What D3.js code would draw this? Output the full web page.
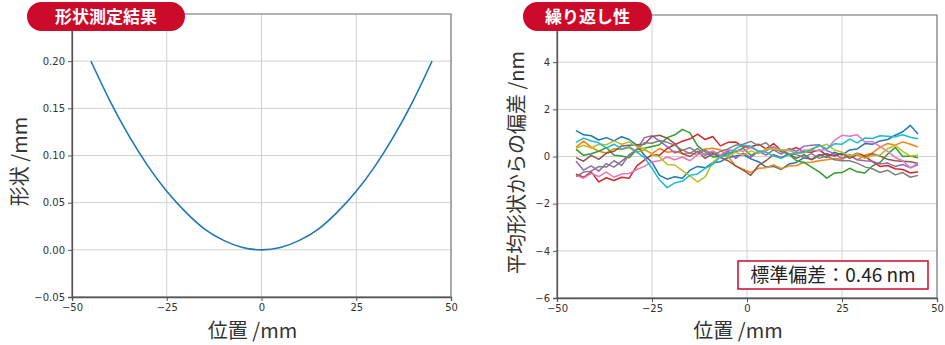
<!DOCTYPE html>
<html><head><meta charset="utf-8">
<script src="https://cdn.jsdelivr.net/npm/d3@7"></script>
<style>body{margin:0;background:#fff}svg{display:block}</style>
</head><body>
<svg id="c" width="945" height="345"></svg>
<script>
// ---------- data ----------
const xTicks = [-50, -25, 0, 25, 50];
const shapeYTicks = [-0.05, 0.00, 0.05, 0.10, 0.15, 0.20];
const repYTicks = [-6, -4, -2, 0, 2, 4];

const shapeX = [-45,-40,-35,-30,-25,-20,-15,-10,-5,0,5,10,15,20,25,30,35,40,45];
const shapeY = [0.200,0.158,0.121,0.089,0.062,0.040,0.022,0.010,0.0025,0,0.0025,0.010,0.022,0.040,0.062,0.089,0.121,0.158,0.200];

const repX = [-45,-43,-41,-39,-37,-35,-33,-31,-29,-27,-25,-23,-21,-19,-17,-15,-13,-11,-9,-7,-5,-3,-1,1,3,5,7,9,11,13,15,17,19,21,23,25,27,29,31,33,35,37,39,41,43,45];
const rep0 = [1.10,0.92,0.88,0.70,0.80,0.66,0.84,0.72,0.48,0.05,-0.25,-0.80,-0.96,-0.86,-0.92,-0.58,-0.42,-0.48,-0.26,-0.22,-0.05,0.02,0.08,-0.10,-0.22,-0.45,-0.42,-0.55,-0.32,-0.25,-0.05,-0.12,0.08,-0.04,0.18,0.06,0.28,0.32,0.55,0.52,0.66,0.72,0.90,1.05,1.32,0.95];
const rep1 = [0.40,0.65,0.40,0.22,0.15,0.33,0.30,0.38,0.18,0.28,0.12,0.34,0.18,0.22,0.12,0.16,0.08,0.32,0.35,0.28,0.00,-0.40,-0.55,-0.68,-0.50,-0.48,-0.36,-0.52,-0.40,-0.38,-0.25,-0.24,-0.18,-0.14,-0.08,-0.12,0.04,-0.14,0.05,0.15,0.40,0.55,0.48,0.62,0.52,0.40];
const rep2 = [0.30,0.05,0.12,0.22,0.38,0.05,0.02,-0.05,0.30,0.35,0.42,0.50,0.80,0.92,1.15,1.00,0.45,0.20,-0.02,0.00,0.15,0.20,0.35,0.05,0.20,0.25,0.40,0.20,0.10,-0.18,-0.25,-0.45,-0.65,-0.92,-0.70,-0.68,-0.50,-0.65,-0.70,-0.40,-0.25,0.10,0.38,0.00,0.02,-0.05];
const rep3 = [-0.75,-0.88,-0.65,-1.08,-0.90,-1.02,-0.88,-0.92,-0.40,-0.15,0.08,0.05,0.35,0.50,0.65,0.75,0.95,0.72,0.85,0.45,0.60,0.62,0.40,0.40,0.52,0.32,0.55,0.25,0.25,0.38,0.20,0.18,0.28,0.05,0.05,0.12,0.00,0.14,0.02,-0.22,-0.42,-0.38,-0.52,-0.55,-0.70,-0.65];
const rep4 = [-0.20,-0.58,-0.40,-0.62,-0.30,-0.45,-0.20,0.05,0.30,0.80,0.88,0.65,0.42,0.15,0.28,0.12,0.34,0.05,0.18,0.00,0.24,-0.08,0.14,-0.04,0.22,0.06,0.28,0.10,0.34,0.22,0.44,0.48,0.50,0.25,0.12,-0.08,0.08,-0.14,-0.18,-0.20,-0.32,-0.28,-0.42,-0.34,-0.48,-0.35];
const rep5 = [-0.05,-0.20,0.05,-0.12,0.14,0.22,0.45,0.48,0.50,0.52,0.85,0.90,0.78,0.55,0.12,0.00,0.22,-0.08,0.12,-0.04,-0.18,-0.40,-0.58,-0.80,-0.38,-0.18,0.08,-0.05,0.12,-0.08,0.08,-0.14,0.04,0.12,0.02,0.14,-0.08,0.08,-0.04,0.12,0.02,-0.12,-0.18,-0.20,-0.22,-0.30];
const rep6 = [-0.80,-0.92,-0.72,-0.85,-0.66,-0.88,-0.74,-0.72,-0.55,-0.42,-0.22,-0.18,-0.02,-0.14,-0.02,-0.18,0.08,0.12,0.24,0.06,0.28,0.26,0.22,0.38,0.22,0.24,0.42,0.26,0.28,0.12,0.28,0.26,0.24,0.32,0.68,0.90,0.86,0.92,0.62,0.64,0.42,0.22,-0.04,-0.18,-0.48,-0.28];
const rep7 = [-0.85,-0.66,-0.62,-0.42,-0.45,-0.18,-0.38,0.08,0.28,0.58,0.56,0.68,0.60,0.48,0.26,0.38,0.16,0.28,0.06,0.22,0.32,0.48,0.52,0.64,0.46,0.58,0.28,0.28,0.12,0.08,-0.04,0.12,-0.08,0.02,-0.14,-0.18,-0.18,-0.28,-0.44,-0.52,-0.68,-0.58,-0.78,-0.68,-0.88,-0.80];
const rep8 = [0.35,0.48,0.36,0.52,0.50,0.66,0.52,0.62,0.42,0.32,0.10,-0.02,-0.34,-0.36,-0.60,-0.82,-1.08,-0.86,-0.24,0.00,0.02,0.18,0.06,0.24,0.12,0.32,0.32,0.28,0.26,0.12,0.16,0.34,0.42,0.52,0.28,0.18,0.02,0.12,-0.08,0.04,0.06,0.34,0.46,0.22,0.02,0.06];
const rep9 = [0.60,0.78,0.66,0.58,0.36,0.52,0.32,0.42,0.20,-0.05,-0.50,-1.00,-1.32,-1.12,-1.04,-0.80,-0.74,-0.50,-0.34,0.00,0.06,0.34,0.48,0.44,0.22,0.18,0.02,-0.08,0.08,0.16,0.18,0.28,0.48,0.32,0.54,0.52,0.74,0.58,0.78,0.76,0.88,0.86,0.84,0.92,0.82,0.75];
const repSeries = [rep0, rep1, rep2, rep3, rep4, rep5, rep6, rep7, rep8, rep9];
const repColors = ["#1f77b4","#ff7f0e","#2ca02c","#d62728","#9467bd","#8c564b","#e377c2","#7f7f7f","#bcbd22","#17becf"];

const titles = ["形状測定結果", "繰り返し性"];
const xLabel = "位置 /mm";
const yLabels = ["形状 /mm", "平均形状からの偏差 /nm"];
const stdText = "標準偏差：0.46 nm";

// ---------- drawing ----------
const svg = d3.select("#c");
const RED = "#cc0a2a";
const jp = "'Noto Sans CJK JP','Noto Sans',sans-serif";
const tickFont = "'DejaVu Sans',sans-serif";

function panel(opt) {
  const x = d3.scaleLinear().domain([-50, 50]).range([opt.x0, opt.x1]);
  const y = d3.scaleLinear().domain(opt.yDomain).range([opt.y1, opt.y0]);
  const g = svg.append("g");
  g.append("g").selectAll("line").data(xTicks).join("line")
    .attr("x1", d => x(d)).attr("x2", d => x(d)).attr("y1", opt.y0).attr("y2", opt.y1)
    .attr("stroke", "#d0d0d0").attr("stroke-width", 1);
  g.append("g").selectAll("line").data(opt.yTicks).join("line")
    .attr("x1", opt.x0).attr("x2", opt.x1).attr("y1", d => y(d)).attr("y2", d => y(d))
    .attr("stroke", "#d0d0d0").attr("stroke-width", 1);
  opt.draw(g, x, y);
  g.append("rect").attr("x", opt.x0).attr("y", opt.y0)
    .attr("width", opt.x1 - opt.x0).attr("height", opt.y1 - opt.y0)
    .attr("fill", "none").attr("stroke", "#808080").attr("stroke-width", 1.2);
  const ax = g.append("g").attr("transform", `translate(0,${opt.y1})`)
    .call(d3.axisBottom(x).tickValues(xTicks).tickFormat(d3.format("d")).tickSize(4).tickPadding(3));
  const ay = g.append("g").attr("transform", `translate(${opt.x0},0)`)
    .call(d3.axisLeft(y).tickValues(opt.yTicks).tickFormat(opt.yFmt).tickSize(4).tickPadding(3));
  [ax, ay].forEach(a => {
    a.select(".domain").attr("stroke", "#555").attr("stroke-width", 1.3);
    a.selectAll(".tick line").attr("stroke", "#555");
    a.selectAll(".tick text").attr("fill", "#333").style("font-family", tickFont).style("font-size", "10px");
  });
  svg.append("text").attr("x", (opt.x0 + opt.x1) / 2 - 9).attr("y", 338).attr("text-anchor", "middle")
    .style("font-family", jp).style("font-size", "20px").attr("fill", "#333").text(xLabel);
  svg.append("text").attr("transform", `translate(${opt.yLabelX},${(opt.y0 + opt.y1) / 2 + 6}) rotate(-90)`)
    .attr("text-anchor", "middle").style("font-family", jp).style("font-size", "20px").attr("fill", "#333").text(opt.yLabel);
  svg.append("rect").attr("x", opt.bx).attr("y", 2).attr("width", opt.bw).attr("height", 29)
    .attr("rx", 14.5).attr("fill", RED);
  svg.append("text").attr("x", opt.bx + opt.bw / 2).attr("y", 23).attr("text-anchor", "middle")
    .style("font-family", jp).style("font-size", "17px").style("font-weight", "bold").attr("fill", "#fff").text(opt.title);
  return {x, y, g};
}

panel({
  x0: 72, x1: 451, y0: 14, y1: 297, yDomain: [-0.05, 0.25], yTicks: shapeYTicks,
  yFmt: d3.format(".2f"), yLabel: yLabels[0], yLabelX: 27, title: titles[0], bx: 27, bw: 158,
  draw: (g, x, y) => {
    const line = d3.line().x((d, i) => x(shapeX[i])).y(d => y(d)).curve(d3.curveMonotoneX);
    g.append("path").attr("d", line(shapeY)).attr("fill", "none").attr("stroke", "#1f77b4").attr("stroke-width", 1.6);
  }
});

panel({
  x0: 557, x1: 937, y0: 15, y1: 298, yDomain: [-6, 6], yTicks: repYTicks,
  yFmt: d3.format("d"), yLabel: yLabels[1], yLabelX: 524, title: titles[1], bx: 523, bw: 129,
  draw: (g, x, y) => {
    const line = d3.line().x((d, i) => x(repX[i])).y(d => y(d));
    repSeries.forEach((s, k) => {
      g.append("path").attr("d", line(s)).attr("fill", "none")
        .attr("stroke", repColors[k]).attr("stroke-width", 1.5).attr("stroke-linejoin", "round");
    });
  }
});

svg.append("rect").attr("x", 738).attr("y", 261).attr("width", 190).attr("height", 28)
  .attr("fill", "#fff").attr("stroke", RED).attr("stroke-width", 1.5);
svg.append("text").attr("x", 833).attr("y", 282).attr("text-anchor", "middle")
  .style("font-family", jp).style("font-size", "19px").attr("fill", "#222").text(stdText);
</script>
</body></html>
